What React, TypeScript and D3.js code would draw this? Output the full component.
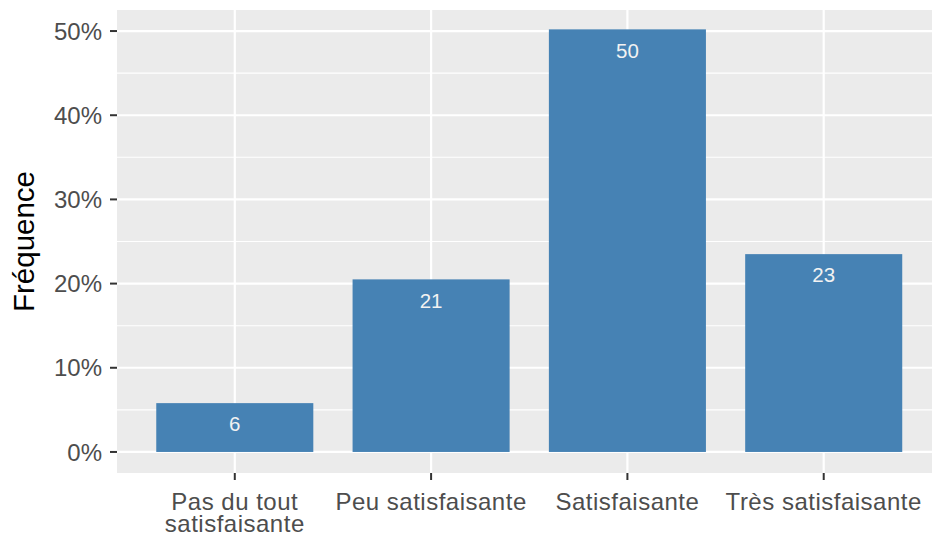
import React from "react";
import * as d3 from "d3";

const categories = [
  "Pas du tout satisfaisante",
  "Peu satisfaisante",
  "Satisfaisante",
  "Très satisfaisante",
];
const categoryLines = [
  ["Pas du tout", "satisfaisante"],
  ["Peu satisfaisante"],
  ["Satisfaisante"],
  ["Très satisfaisante"],
];
const percents = [5.8, 20.5, 50.2, 23.5];
const labels = ["6", "21", "50", "23"];
const yTicks = [0, 10, 20, 30, 40, 50];
const yMinor = [5, 15, 25, 35, 45];

const App = () => {
  const width = 932;
  const height = 536;
  const panel = { left: 117, top: 10, bottom: 473, right: 941.5 };

  const x = d3
    .scalePoint<string>()
    .domain(categories)
    .range([panel.left, panel.right])
    .padding(0.6);
  const barW = x.step() * 0.8;

  const y = d3.scaleLinear().domain([-2.5, 52.5]).range([panel.bottom, panel.top]);

  const font = "'Liberation Sans', Arial, sans-serif";

  return (
    <svg
      width={width}
      height={height}
      style={{ position: "absolute", left: 0, top: 0, background: "#fff" }}
      fontFamily={font}
    >
      <rect
        x={panel.left}
        y={panel.top}
        width={panel.right - panel.left}
        height={panel.bottom - panel.top}
        fill="#EBEBEB"
      />
      {yMinor.map((t) => (
        <line
          key={"mi" + t}
          x1={panel.left}
          x2={panel.right}
          y1={y(t)}
          y2={y(t)}
          stroke="#fff"
          strokeWidth={1.1}
        />
      ))}
      {yTicks.map((t) => (
        <line
          key={"ma" + t}
          x1={panel.left}
          x2={panel.right}
          y1={y(t)}
          y2={y(t)}
          stroke="#fff"
          strokeWidth={2.2}
        />
      ))}
      {categories.map((c) => (
        <line
          key={"v" + c}
          x1={x(c)}
          x2={x(c)}
          y1={panel.top}
          y2={panel.bottom}
          stroke="#fff"
          strokeWidth={2.2}
        />
      ))}
      {categories.map((c, i) => (
        <rect
          key={"b" + c}
          x={(x(c) as number) - barW / 2}
          y={y(percents[i])}
          width={barW}
          height={y(0) - y(percents[i])}
          fill="#4682B4"
        />
      ))}
      {categories.map((c, i) => (
        <text
          key={"l" + c}
          x={x(c)}
          y={y(percents[i]) + 21}
          dy="0.35em"
          textAnchor="middle"
          fill="#F2F2F2"
          fontSize={20.5}
        >
          {labels[i]}
        </text>
      ))}
      {yTicks.map((t) => (
        <g key={"yt" + t}>
          <line x1={110} x2={panel.left} y1={y(t)} y2={y(t)} stroke="#333" strokeWidth={2} />
          <text
            x={102}
            y={y(t)}
            dy="0.36em"
            textAnchor="end"
            fill="#4D4D4D"
            fontSize={24}
          >
            {t + "%"}
          </text>
        </g>
      ))}
      {categories.map((c, i) => (
        <g key={"xt" + c}>
          <line
            x1={x(c)}
            x2={x(c)}
            y1={panel.bottom}
            y2={panel.bottom + 7}
            stroke="#333"
            strokeWidth={2}
          />
          <text
            textAnchor="middle"
            fill="#4D4D4D"
            fontSize={24}
            letterSpacing={0.5}
          >
            {categoryLines[i].map((ln, j) => (
              <tspan key={j} x={x(c)} y={510 + j * 22}>
                {ln}
              </tspan>
            ))}
          </text>
        </g>
      ))}
      <text
        transform={`translate(34,${(panel.top + panel.bottom) / 2}) rotate(-90)`}
        textAnchor="middle"
        fill="#000"
        fontSize={29.5}
      >
        Fréquence
      </text>
    </svg>
  );
};

export default App;
